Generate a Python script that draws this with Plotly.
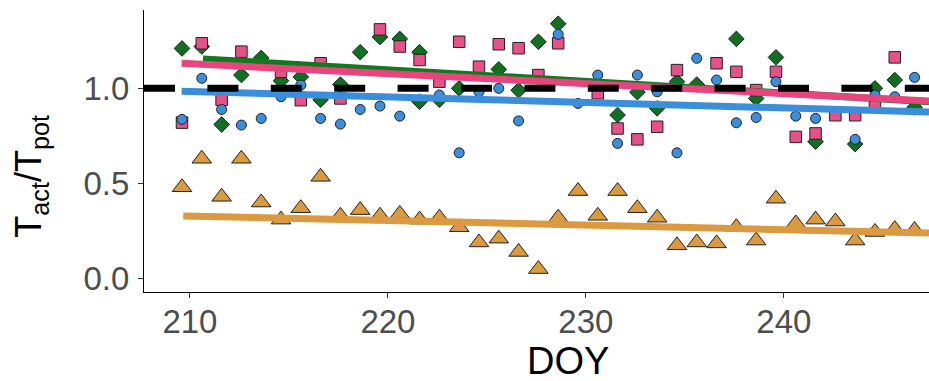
import plotly.graph_objects as go

# ---- data ----
green_x = [209.6, 210.6, 211.6, 212.6, 213.6, 214.6, 215.6, 216.6, 217.6, 218.6, 219.6, 220.6,
           221.6, 221.6, 222.6, 223.6, 225.6, 226.6, 227.6, 228.6, 231.6, 232.6, 233.6, 234.6,
           235.6, 237.6, 238.6, 239.6, 241.6, 243.6, 244.6, 245.6, 246.6]
green_y = [1.21, 1.22, 0.81, 1.07, 1.16, 1.04, 1.06, 0.94, 1.02, 1.19, 1.27, 1.26,
           1.19, 0.93, 0.94, 1.00, 1.10, 0.99, 1.245, 1.34, 0.86, 0.98, 0.895, 1.035,
           1.02, 1.26, 0.947, 1.163, 0.72, 0.707, 1.00, 1.044, 0.90]

pink_x = [209.6, 210.6, 211.6, 212.6, 214.6, 215.6, 216.6, 217.6, 219.6, 220.6, 221.6, 222.6,
          223.6, 224.6, 225.6, 226.6, 227.6, 228.6, 230.6, 231.6, 232.6, 233.6, 234.6, 236.6,
          237.6, 238.6, 239.6, 240.6, 241.6, 242.6, 243.6, 244.6, 245.6]
pink_y = [0.82, 1.237, 0.94, 1.193, 1.087, 0.938, 1.132, 0.947, 1.31, 1.22, 1.149, 1.035,
          1.245, 1.114, 1.232, 1.211, 1.07, 1.237, 0.974, 0.789, 0.732, 0.798, 1.096, 1.132,
          1.087, 0.991, 1.087, 0.745, 0.763, 0.859, 0.859, 0.903, 1.163]

blue_x = [209.6, 210.6, 211.6, 212.6, 213.6, 214.6, 215.6, 216.6, 217.6, 218.6, 219.6, 220.6,
          222.6, 223.6, 224.6, 225.6, 226.6, 228.6, 229.6, 230.6, 231.6, 232.6, 233.6, 234.6,
          235.6, 236.6, 237.6, 238.6, 239.6, 240.6, 241.6, 243.6, 244.6, 245.6, 246.6]
blue_y = [0.837, 1.053, 0.889, 0.807, 0.842, 0.956, 1.017, 0.842, 0.812, 0.889, 0.907, 0.854,
          0.965, 0.661, 0.982, 1.00, 0.829, 1.284, 0.921, 1.07, 0.711, 1.07, 0.982, 0.661,
          1.158, 1.044, 0.819, 0.847, 1.035, 0.854, 0.842, 0.732, 0.965, 0.956, 1.058]

orange_x = [209.6, 210.6, 211.6, 212.6, 213.6, 214.6, 215.6, 216.6, 217.6, 218.6, 219.6, 220.6,
            221.6, 222.6, 223.6, 224.6, 225.6, 226.6, 227.6, 228.6, 229.6, 230.6, 231.6, 232.6,
            233.6, 234.6, 235.6, 236.6, 237.6, 238.6, 239.6, 240.6, 241.6, 242.6, 243.6, 244.6,
            245.6, 246.6]
orange_y = [0.48, 0.63, 0.43, 0.63, 0.40, 0.31, 0.37, 0.535, 0.33, 0.36, 0.33, 0.34,
            0.31, 0.32, 0.27, 0.19, 0.21, 0.14, 0.05, 0.32, 0.46, 0.33, 0.46, 0.37,
            0.32, 0.175, 0.19, 0.185, 0.27, 0.20, 0.42, 0.29, 0.31, 0.30, 0.20, 0.245,
            0.26, 0.255]

# fitted trend lines (endpoints)
green_fit_x = [210.66, 247.33]
green_fit_y = [1.155, 0.93]
pink_fit_x = [209.58, 247.33]
pink_fit_y = [1.132, 0.934]
blue_fit_x = [209.58, 247.33]
blue_fit_y = [0.985, 0.876]
orange_fit_x = [209.66, 247.33]
orange_fit_y = [0.3295, 0.240]

ref_y = 1.0
x_ticks = [210, 220, 230, 240]
y_ticks = [0.0, 0.5, 1.0]
y_tick_text = ["0.0", "0.5", "1.0"]

# ---- figure ----
GREEN, PINK, BLUE, ORANGE = "#0E7020", "#E8508A", "#3A8EDC", "#DB9A3F"
edge = dict(color="#222222", width=1)

fig = go.Figure()
fig.add_trace(go.Scatter(x=green_x, y=green_y, mode="markers",
                         marker=dict(symbol="diamond", size=12, color=GREEN, line=edge)))
fig.add_trace(go.Scatter(x=pink_x, y=pink_y, mode="markers",
                         marker=dict(symbol="square", size=11.5, color=PINK, line=edge)))
fig.add_trace(go.Scatter(x=blue_x, y=blue_y, mode="markers",
                         marker=dict(symbol="circle", size=10, color=BLUE, line=edge)))
fig.add_trace(go.Scatter(x=orange_x, y=orange_y, mode="markers",
                         marker=dict(symbol="triangle-up", size=17, color=ORANGE, line=edge)))

for fx, fy, c in [(green_fit_x, green_fit_y, "#107A1E"), (pink_fit_x, pink_fit_y, "#E8457F"),
                  (blue_fit_x, blue_fit_y, BLUE), (orange_fit_x, orange_fit_y, ORANGE)]:
    fig.add_trace(go.Scatter(x=fx, y=fy, mode="lines", line=dict(color=c, width=7)))

fig.add_shape(type="line", xref="paper", x0=0, x1=1, yref="y", y0=ref_y, y1=ref_y,
              line=dict(color="black", width=7, dash="31px,32.4px"), layer="above")

tick_font = dict(family="Liberation Sans, Arial, sans-serif", size=33, color="#4D4D4D")
fig.update_layout(
    width=929, height=381,
    margin=dict(l=144, r=0, t=10, b=89),
    paper_bgcolor="white", plot_bgcolor="white",
    showlegend=False,
    xaxis=dict(range=[207.68, 247.33], tickvals=x_ticks, showgrid=False, zeroline=False,
               showline=True, linecolor="black", linewidth=1.2,
               ticks="outside", ticklen=5, tickcolor="#333333", tickwidth=1,
               tickfont=tick_font, ticklabelstandoff=-5),
    yaxis=dict(range=[-0.0705, 1.412], tickvals=y_ticks, ticktext=y_tick_text,
               showgrid=False, zeroline=False,
               showline=True, linecolor="black", linewidth=1.2,
               ticks="outside", ticklen=5, tickcolor="#333333", tickwidth=1,
               tickfont=tick_font, ticklabelstandoff=2),
    annotations=[
        dict(text="DOY", xref="paper", yref="paper", x=0.540, y=-0.245,
             xanchor="center", yanchor="middle", showarrow=False,
             font=dict(family="Liberation Sans, Arial, sans-serif", size=38, color="black")),
        dict(text="T<sub>act</sub>/T<sub>pot</sub>", xref="paper", yref="paper",
             x=-0.144, y=0.4125, xanchor="center", yanchor="middle", textangle=-90,
             showarrow=False,
             font=dict(family="Liberation Sans, Arial, sans-serif", size=36, color="black")),
    ],
)

fig.write_html("out.html", config={"displayModeBar": False},
               post_script="document.body.style.margin='0';")
